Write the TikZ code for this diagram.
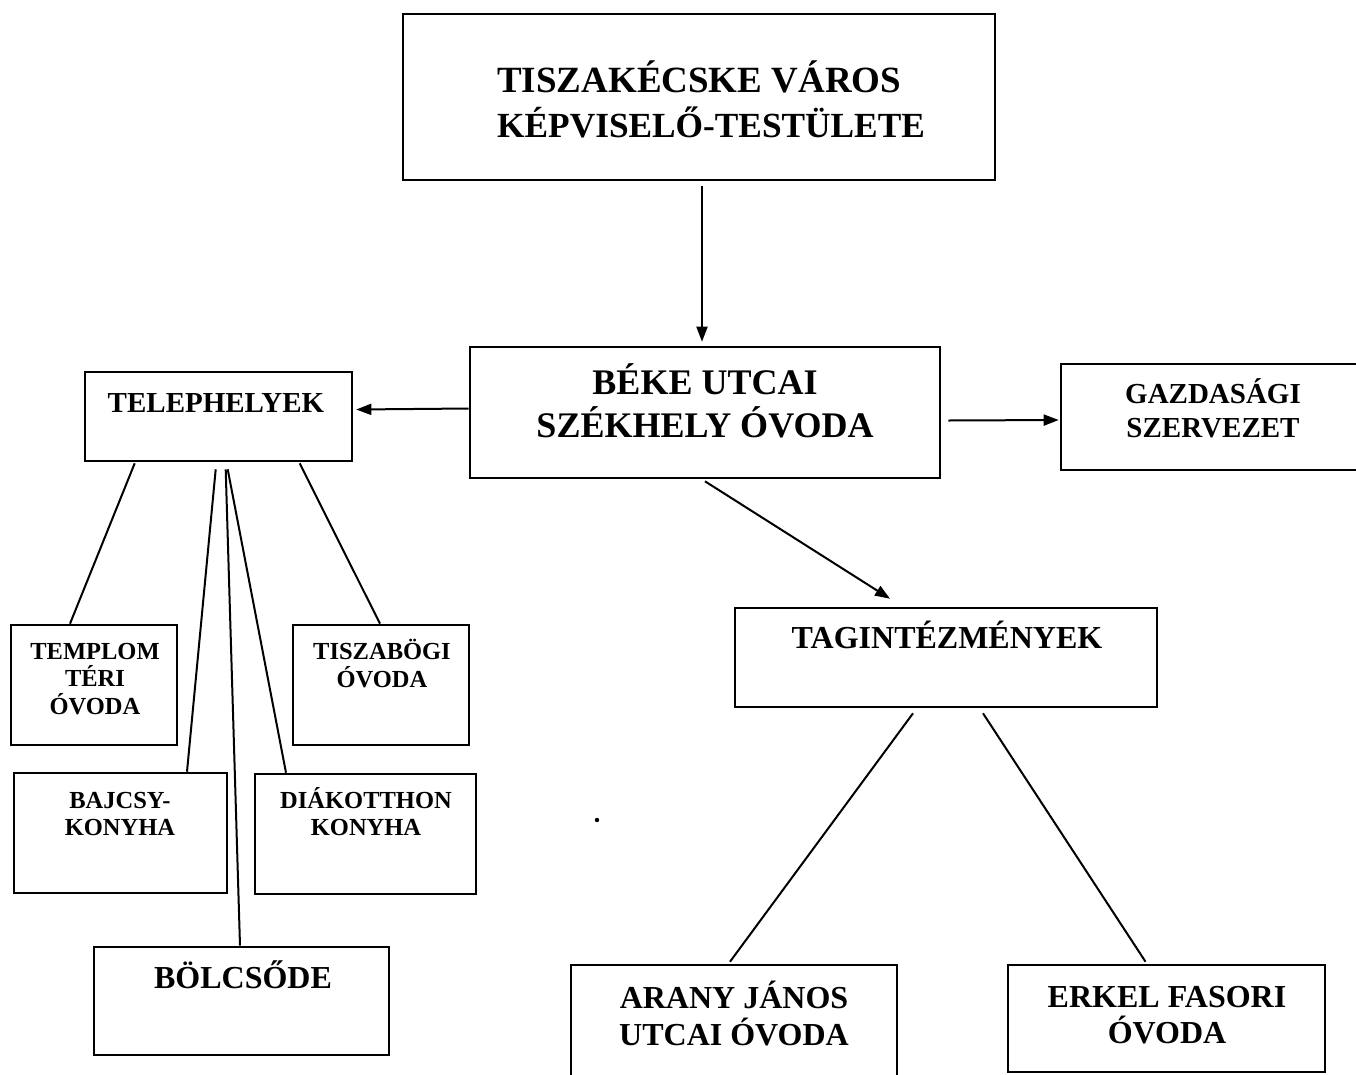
\documentclass[tikz,border=0pt]{standalone}
\usepackage{fontspec}
\setmainfont{Liberation Serif}
\usetikzlibrary{arrows.meta,calc}
\begin{document}
\begin{tikzpicture}[x=1pt,y=-1pt,
  box/.style={draw=black,line width=2.6pt,inner sep=0pt},
  conn/.style={draw=black,line width=2pt},
  arr/.style={conn,-{Triangle[length=15pt,width=11pt]}},
  lbl/.style={inner sep=0pt,anchor=base,text=black},
  fA/.style={font=\fontsize{36}{43}\selectfont\bfseries},
  fB/.style={font=\fontsize{29}{34}\selectfont\bfseries},
  fC/.style={font=\fontsize{32}{37}\selectfont\bfseries},
  fD/.style={font=\fontsize{24.5}{27}\selectfont\bfseries}]
\useasboundingbox[fill=white] (0,0) rectangle (1356,1074);
% boxes
\node[box,minimum width=592pt,minimum height=166pt] (topb) at (699,97) {};
\node[box,minimum width=470pt,minimum height=131pt] (beke) at (705,412.5) {};
\node[box,minimum width=267pt,minimum height=89pt] (tel) at (218.5,416.5) {};
\node[box,minimum width=300pt,minimum height=106pt] (gaz) at (1211,417) {};
\node[box,minimum width=422pt,minimum height=99pt] (tag) at (946,657.5) {};
\node[box,minimum width=326pt,minimum height=125pt] (arany) at (734,1027.5) {};
\node[box,minimum width=317pt,minimum height=107pt] (erkel) at (1166.5,1018.5) {};
\node[box,minimum width=166pt,minimum height=120pt] (templ) at (94,685) {};
\node[box,minimum width=176pt,minimum height=120pt] (tisza) at (381,685) {};
\node[box,minimum width=213pt,minimum height=120pt] (bajcsy) at (120.5,833) {};
\node[box,minimum width=221pt,minimum height=120pt] (diak) at (365.5,834) {};
\node[box,minimum width=295pt,minimum height=108pt] (bolcs) at (241.5,1001) {};
% labels
\node[lbl,font=\fontsize{37}{43}\selectfont\bfseries,anchor=base west] (t1) at (497,92) {TISZAKÉCSKE VÁROS};
\node[lbl,font=\fontsize{35.3}{43}\selectfont\bfseries,anchor=base west] (t2) at (497,137) {KÉPVISELŐ-TESTÜLETE};
\node[lbl,fA] (b1) at (705,394) {BÉKE UTCAI};
\node[lbl,fA] (b2) at (705,437) {SZÉKHELY ÓVODA};
\node[lbl,fB] (tl1) at (216,412) {TELEPHELYEK};
\node[lbl,fB] (g1) at (1213,403.6) {GAZDASÁGI};
\node[lbl,fB] (g2) at (1213,437.6) {SZERVEZET};
\node[lbl,fC] (tg1) at (947,648.6) {TAGINTÉZMÉNYEK};
\node[lbl,fC] (a1) at (734,1008.6) {ARANY JÁNOS};
\node[lbl,fC] (a2) at (734,1045.6) {UTCAI ÓVODA};
\node[lbl,fC] (e1) at (1167,1007.6) {ERKEL FASORI};
\node[lbl,fC] (e2) at (1167,1043.6) {ÓVODA};
\node[lbl,fD] (tp1) at (95,659) {TEMPLOM};
\node[lbl,fD] (tp2) at (95,686) {TÉRI};
\node[lbl,fD] (tp3) at (95,714) {ÓVODA};
\node[lbl,fD] (ts1) at (382,659) {TISZABÖGI};
\node[lbl,fD] (ts2) at (382,687) {ÓVODA};
\node[lbl,fD] (bj1) at (120,808) {BAJCSY-};
\node[lbl,fD] (bj2) at (120,835) {KONYHA};
\node[lbl,fD] (dk1) at (366,808) {DIÁKOTTHON};
\node[lbl,fD] (dk2) at (366,835) {KONYHA};
\node[lbl,fC] (bl1) at (243,988.6) {BÖLCSŐDE};
% connector end points
\coordinate (topS) at ($(topb.south)+(3,5)$);
\coordinate (bekeN) at ($(beke.north)+(-3,-4)$);
\coordinate (bekeW) at ($(beke.west)+(0,-4)$);
\coordinate (telE) at ($(tel.east)+(3,-7)$);
\coordinate (bekeE) at ($(beke.east)+(7,8)$);
\coordinate (gazW) at ($(gaz.west)+(-1,3)$);
\coordinate (bekeS) at ($(beke.south)+(0,2)$);
\coordinate (tagN) at ($(tag.north)+(-56,-8)$);
\coordinate (tagSa) at ($(tag.south)+(-33,5)$);
\coordinate (tagSe) at ($(tag.south)+(37,5)$);
\coordinate (telA) at ($(tel.south west)+(51,1)$);
\coordinate (telB) at ($(tel.south west)+(216,1)$);
\coordinate (telC) at ($(tel.south west)+(132,7)$);
\coordinate (telD) at ($(tel.south west)+(142,7)$);
\coordinate (telE2) at ($(tel.south west)+(144,7)$);
\draw[arr] (topS) -- (bekeN);
\draw[arr] (bekeW) -- (telE);
\draw[arr] (bekeE) -- (gazW);
\draw[arr] (bekeS) -- (tagN);
\draw[conn] (tagSa) -- ($(arany.north)+(-4,-2)$);
\draw[conn] (tagSe) -- ($(erkel.north)+(-21,-2)$);
\draw[conn] (telA) -- ($(templ.north)+(-24,0)$);
\draw[conn] (telB) -- ($(tisza.north)+(-1,0)$);
\draw[conn] (telC) -- ($(bajcsy.north)+(66.5,0)$);
\draw[conn] (telD) -- ($(bolcs.north)+(-1.5,0)$);
\draw[conn] (telE2) -- ($(diak.north)+(-79.5,0)$);
\fill[black] (597,820) circle (2.2pt);
\end{tikzpicture}
\end{document}
